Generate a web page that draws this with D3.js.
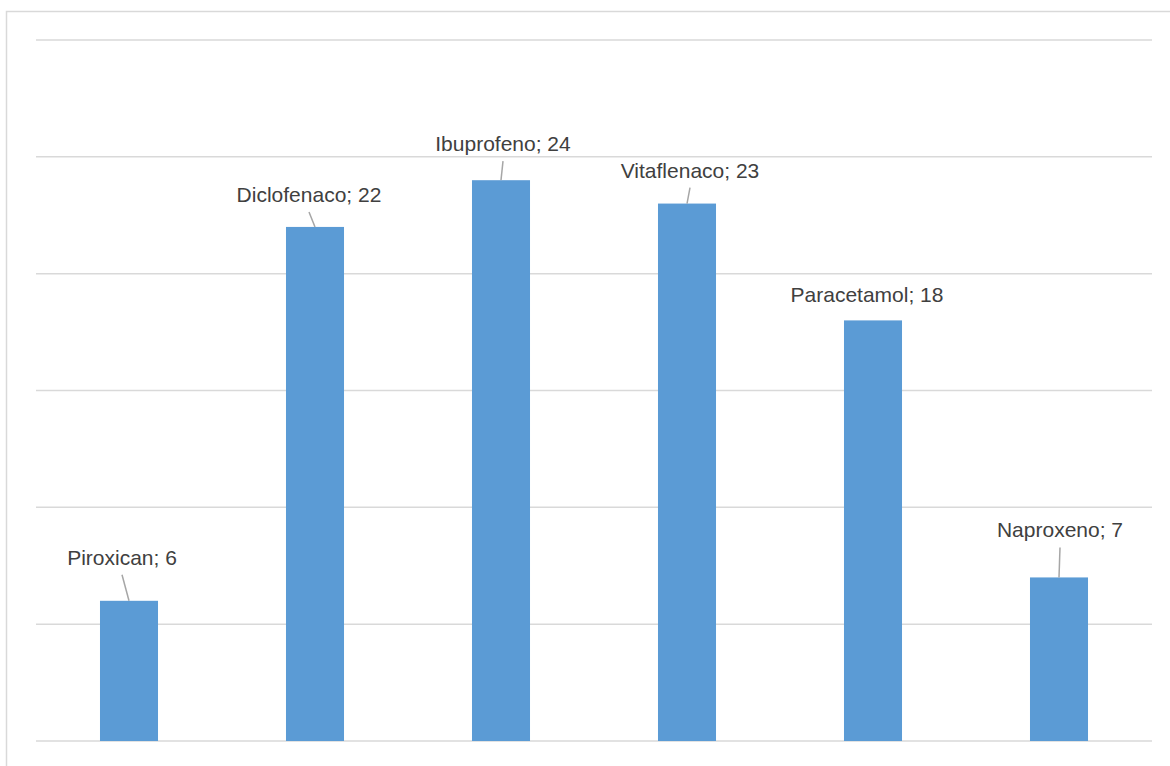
<!DOCTYPE html>
<html>
<head>
<meta charset="utf-8">
<script src="https://cdn.jsdelivr.net/npm/d3@7"></script>
<style>
  html, body { margin: 0; padding: 0; background: #fff; overflow: hidden; }
  svg { display: block; }
</style>
</head>
<body>
<svg id="chart" width="1170" height="766"></svg>
<script>
// Medicamentos y número de menciones
const categories = ["Piroxican", "Diclofenaco", "Ibuprofeno", "Vitaflenaco", "Paracetamol", "Naproxeno"];
const values = [6, 22, 24, 23, 18, 7];
const gridTicks = [0, 5, 10, 15, 20, 25, 30];

// Label placement relative to each bar (horizontal shift, height of baseline above the bar top)
const labelDx = [-7, -6, 2, 3, -6, 1];
const labelLift = [36, 25, 29, 26, 18, 40];
const showLeader = [true, true, true, true, false, true];

const svg = d3.select("#chart");

const plot = { left: 36, right: 1152, top: 40, bottom: 741 };

const x = d3.scaleBand()
  .domain(categories)
  .range([plot.left, plot.right])
  .paddingInner(0.688)
  .paddingOuter(0.344);

const y = d3.scaleLinear()
  .domain([0, 30])
  .range([plot.bottom, plot.top]);

// Chart area frame
svg.append("rect")
  .attr("x", 6.5)
  .attr("y", 11.5)
  .attr("width", 1200)
  .attr("height", 800)
  .attr("fill", "none")
  .attr("stroke", "#d9d9d9")
  .attr("stroke-width", 1.5);

// Horizontal gridlines
svg.append("g")
  .selectAll("line")
  .data(gridTicks)
  .join("line")
  .attr("x1", plot.left)
  .attr("x2", plot.right)
  .attr("y1", d => y(d))
  .attr("y2", d => y(d))
  .attr("stroke", "#d9d9d9")
  .attr("stroke-width", 1.5);

// Bars
svg.append("g")
  .selectAll("rect")
  .data(categories)
  .join("rect")
  .attr("x", d => x(d))
  .attr("y", (d, i) => y(values[i]))
  .attr("width", x.bandwidth())
  .attr("height", (d, i) => y(0) - y(values[i]))
  .attr("fill", "#5b9bd5");

// Data labels with leader lines
const labels = svg.append("g");
categories.forEach((c, i) => {
  const cx = x(c) + x.bandwidth() / 2;
  const top = y(values[i]);
  const lx = cx + labelDx[i];
  const ly = top - labelLift[i];
  labels.append("text")
    .attr("x", lx)
    .attr("y", ly)
    .attr("text-anchor", "middle")
    .attr("font-family", "'Liberation Sans', Arial, sans-serif")
    .attr("font-size", 21)
    .attr("fill", "#404040")
    .text(`${c}; ${values[i]}`);
  if (showLeader[i]) {
    labels.append("line")
      .attr("x1", lx)
      .attr("y1", ly + 10)
      .attr("x2", cx)
      .attr("y2", top)
      .attr("stroke", "#a6a6a6")
      .attr("stroke-width", 1.5);
  }
});
</script>
</body>
</html>
